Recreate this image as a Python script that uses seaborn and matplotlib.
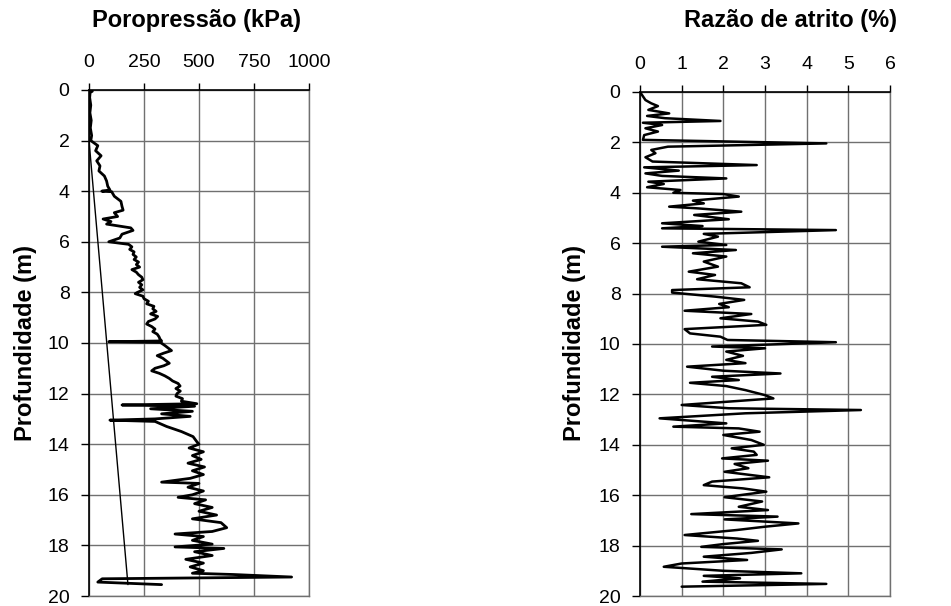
import matplotlib
matplotlib.use('Agg')
from matplotlib import pyplot as plt
import seaborn as sns

# 图表样式
sns.set_style('white')
plt.rcParams['font.family'] = ['Liberation Sans', 'DejaVu Sans']
plt.rcParams['text.color'] = 'black'
plt.rcParams['axes.labelcolor'] = 'black'

# ============================================
# 数据: Poropressão (kPa) x Profundidade (m)
# ============================================
u_depth = [0.0, 0.05, 0.1, 0.3, 0.6, 0.9, 1.2, 1.5, 1.8, 2.0,
           2.2, 2.4, 2.6, 2.8, 3.0, 3.2, 3.4, 3.6, 3.8, 3.95,
           4.0, 4.02, 4.2, 4.4, 4.6, 4.75, 4.85, 5.0, 5.1, 5.2,
           5.3, 5.45, 5.55, 5.7, 5.85, 6.0, 6.1, 6.2, 6.3, 6.4,
           6.5, 6.6, 6.7, 6.8, 6.9, 7.0, 7.1, 7.2, 7.3, 7.4,
           7.5, 7.6, 7.7, 7.8, 7.9, 8.0, 8.05, 8.15, 8.25, 8.35,
           8.45, 8.55, 8.65, 8.75, 8.85, 8.95, 9.05, 9.15, 9.25, 9.35,
           9.45, 9.55, 9.65, 9.75, 9.85, 9.92, 9.95, 9.98, 10.1, 10.2,
           10.3, 10.4, 10.5, 10.6, 10.7, 10.8, 10.9, 11.0, 11.1, 11.2,
           11.3, 11.4, 11.5, 11.6, 11.7, 11.8, 11.9, 12.0, 12.1, 12.2,
           12.3, 12.4, 12.45, 12.5, 12.6, 12.7, 12.8, 12.9, 13.0, 13.05,
           13.1, 13.3, 13.5, 13.7, 13.9, 14.0, 14.15, 14.3, 14.45, 14.6,
           14.75, 14.9, 15.05, 15.2, 15.35, 15.5, 15.55, 15.7, 15.85, 16.0,
           16.1, 16.2, 16.35, 16.5, 16.65, 16.8, 16.95, 17.1, 17.3, 17.45,
           17.55, 17.65, 17.8, 17.95, 18.06, 18.12, 18.25, 18.4, 18.55, 18.7,
           18.85, 19.0, 19.1, 19.15, 19.25, 19.32, 19.45, 19.55]
u_kpa = [10, 15, 5, 3, 8, 4, 10, 6, 12, 8,
         40, 30, 55, 35, 50, 45, 70, 80, 85, 95,
         58, 103, 115, 145, 150, 155, 115, 130, 64, 100,
         80, 190, 200, 150, 140, 90, 180, 195, 185, 205,
         200, 215, 205, 225, 215, 230, 195, 215, 225, 240,
         245, 225, 240, 230, 245, 220, 210, 245, 250, 270,
         262, 295, 290, 305, 280, 312, 300, 270, 262, 285,
         300, 290, 310, 318, 323, 330, 90, 325, 345, 360,
         375, 340, 310, 335, 350, 365, 340, 300, 285, 320,
         345, 365, 380, 405, 414, 395, 415, 400, 395, 425,
         420, 490, 150, 480, 280, 470, 330, 460, 300, 95,
         300, 353, 420, 473, 490, 500, 455, 520, 470, 510,
         450, 525, 470, 520, 460, 330, 500, 450, 520, 470,
         405, 530, 480, 560, 500, 580, 470, 600, 626, 560,
         391, 520, 470, 560, 391, 613, 480, 560, 440, 520,
         460, 520, 470, 655, 921, 60, 40, 330]

# linha hidrostática
hyd_depth = [0.0, 2.0, 19.55]
hyd_kpa = [0, 0, 177]

# ============================================
# 数据: Razão de atrito (%) x Profundidade (m)
# ============================================
rf_depth = [0.0, 0.32, 0.45, 0.56, 0.71, 0.85, 0.95, 1.04, 1.15, 1.22,
            1.31, 1.44, 1.57, 1.71, 1.9, 2.04, 2.17, 2.3, 2.43, 2.59,
            2.76, 2.9, 2.99, 3.12, 3.23, 3.33, 3.43, 3.56, 3.65, 3.78,
            3.89, 4.0, 4.05, 4.15, 4.31, 4.42, 4.55, 4.62, 4.75, 4.88,
            5.05, 5.21, 5.32, 5.41, 5.48, 5.63, 5.74, 5.94, 6.07, 6.14,
            6.27, 6.4, 6.53, 6.73, 6.93, 7.13, 7.26, 7.43, 7.59, 7.75,
            7.86, 7.96, 8.12, 8.25, 8.41, 8.54, 8.68, 8.81, 8.98, 9.11,
            9.24, 9.41, 9.58, 9.71, 9.84, 9.93, 10.1, 10.17, 10.3, 10.47,
            10.63, 10.76, 10.9, 11.06, 11.17, 11.3, 11.43, 11.54, 11.67, 11.83,
            12.03, 12.16, 12.42, 12.55, 12.62, 12.75, 12.95, 13.15, 13.28, 13.35,
            13.48, 13.61, 13.81, 14.0, 14.14, 14.27, 14.4, 14.54, 14.63, 14.76,
            14.93, 15.07, 15.29, 15.46, 15.6, 15.73, 15.86, 16.08, 16.25, 16.46,
            16.59, 16.75, 16.85, 16.96, 17.12, 17.25, 17.38, 17.58, 17.72, 17.81,
            17.94, 18.05, 18.15, 18.29, 18.44, 18.57, 18.71, 18.84, 19.0, 19.1,
            19.2, 19.3, 19.43, 19.52, 19.63]
rf_pct = [0.0, 0.13, 0.27, 0.43, 0.2, 0.7, 0.17, 0.6, 1.93, 0.07,
          0.53, 0.13, 0.43, 0.1, 0.07, 4.47, 0.67, 0.27, 0.37, 0.13,
          0.3, 2.8, 0.1, 0.93, 0.13, 0.53, 2.07, 0.2, 0.57, 0.17,
          0.97, 0.8, 2.0, 2.37, 1.27, 1.53, 0.7, 1.4, 2.43, 1.3,
          2.13, 0.53, 1.5, 0.53, 4.7, 1.53, 1.87, 1.4, 2.07, 0.53,
          2.3, 1.27, 2.07, 1.53, 1.87, 1.17, 1.8, 1.37, 2.43, 2.63,
          0.77, 0.77, 1.8, 2.5, 1.9, 2.13, 1.07, 2.67, 1.93, 2.83,
          3.03, 1.07, 1.2, 1.93, 2.1, 4.7, 1.73, 3.0, 2.07, 2.47,
          2.07, 2.53, 1.13, 2.0, 3.37, 1.73, 2.37, 1.2, 2.07, 2.53,
          3.0, 3.2, 1.0, 2.13, 5.3, 2.53, 0.47, 2.07, 0.8, 2.37,
          2.87, 2.0, 2.67, 2.97, 2.2, 2.73, 2.8, 1.97, 3.07, 2.27,
          2.6, 2.03, 3.1, 1.73, 1.53, 2.47, 3.03, 2.03, 2.93, 2.37,
          3.07, 1.23, 3.3, 2.03, 3.8, 3.0, 2.33, 1.07, 2.33, 2.83,
          2.0, 1.47, 3.4, 2.67, 1.53, 2.57, 1.0, 0.57, 2.0, 3.87,
          1.53, 2.4, 1.5, 4.47, 1.0]

u_ticks = [0, 250, 500, 750, 1000]
rf_ticks = [0, 1, 2, 3, 4, 5, 6]
depth_ticks = [0, 2, 4, 6, 8, 10, 12, 14, 16, 18, 20]

fig = plt.figure(figsize=(9.51, 6.06), dpi=100)
ax1 = fig.add_axes([0.0936, 0.0165, 0.2313, 0.835])
ax2 = fig.add_axes([0.673, 0.0165, 0.2629, 0.8317])

# 子图1: poropressão
sns.lineplot(x=hyd_kpa, y=hyd_depth, sort=False, estimator=None,
             color='black', linewidth=1.0, ax=ax1)
sns.lineplot(x=u_kpa, y=u_depth, sort=False, estimator=None,
             color='black', linewidth=2.0, ax=ax1)
ax1.set_xlim(0, 1000)
ax1.set_xticks(u_ticks)

# 子图2: razão de atrito
sns.lineplot(x=rf_pct, y=rf_depth, sort=False, estimator=None,
             color='black', linewidth=1.8, ax=ax2)
ax2.set_xlim(0, 6)
ax2.set_xticks(rf_ticks)

for ax in (ax1, ax2):
    ax.set_ylim(20, 0)
    ax.set_yticks(depth_ticks)
    ax.set_xlabel('')
    ax.set_ylabel('')
    ax.xaxis.tick_top()
    ax.grid(True, color='#707070', linewidth=1.0)
    ax.tick_params(axis='x', top=True, bottom=False, direction='out',
                   length=5, width=1, pad=9, labelsize=14, colors='black')
    ax.tick_params(axis='y', left=True, direction='out',
                   length=6, width=1, pad=8, labelsize=14, colors='black')
    for side in ('left', 'top'):
        ax.spines[side].set_color('black')
        ax.spines[side].set_linewidth(1.2)
    for side in ('right', 'bottom'):
        ax.spines[side].set_color('#707070')
        ax.spines[side].set_linewidth(1.0)

fig.text(197 / 951, 1 - 20 / 606, 'Poropressão (kPa)', ha='center', va='center',
         fontsize=17, fontweight='bold')
fig.text(790 / 951, 1 - 20 / 606, 'Razão de atrito (%)', ha='center', va='center',
         fontsize=17, fontweight='bold')
fig.text(26 / 951, 1 - 343 / 606, 'Profundidade (m)', rotation=90, ha='center',
         va='center', fontsize=17, fontweight='bold')
fig.text(574 / 951, 1 - 343 / 606, 'Profundidade (m)', rotation=90, ha='center',
         va='center', fontsize=17, fontweight='bold')

plt.savefig('out.png', dpi=100)
plt.close()
